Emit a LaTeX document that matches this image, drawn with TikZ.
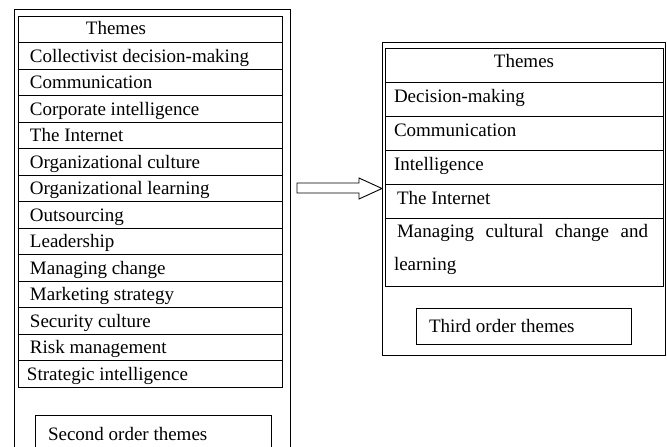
\documentclass[tikz,border=0pt]{standalone}
\usepackage{fontspec}
\setmainfont{Liberation Serif}
\usetikzlibrary{calc}
\begin{document}
\begin{tikzpicture}[x=1pt,y=-1pt,
  frame/.style={draw, line width=0.9pt, inner sep=0pt, outer sep=0pt, anchor=north west},
  entry/.style={font=\fontsize{19}{23}\selectfont, anchor=base west, inner sep=0pt, outer sep=0pt},
  blockarrow/.style={draw, line width=0.9pt, line join=miter},
]
\clip (0,0) rectangle (667,447);

% ---- second order themes (left panel) ----
\node[frame, minimum width=275.7, minimum height=460] (secondpanel) at (14.3,9) {};
\node[frame, minimum width=264, minimum height=26.5] (L0) at (18,16) {};
\node[entry, anchor=base] (L0t) at ($(L0.north west)+(98,18.9)$) {Themes};
\foreach \t/\dx [count=\i] in {
  Collectivist decision-making/12,
  Communication/12,
  Corporate intelligence/12,
  The Internet/12,
  Organizational culture/12,
  Organizational learning/12,
  Outsourcing/12,
  Leadership/12,
  Managing change/12,
  Marketing strategy/12,
  Security culture/12,
  Risk management/12,
  Strategic intelligence/9}{
  \node[frame, minimum width=264, minimum height=26.5] (L\i) at (18,{16+26.5*\i}) {};
  \node[entry] (L\i t) at ($(L\i.north west)+(\dx,19.5)$) {\t};
}
\node[frame, minimum width=236, minimum height=50] (secondlabel) at (35,415) {};
\node[entry] (secondlabelt) at ($(secondlabel.north west)+(13,25.5)$) {Second order themes};

% ---- third order themes (right panel) ----
\node[frame, minimum width=283, minimum height=313] (thirdpanel) at (382,42) {};
\node[frame, minimum width=278, minimum height=34] (R0) at (385,48) {};
\node[entry, anchor=base] (R0t) at ($(R0.north west)+(139,19.5)$) {Themes};
\foreach \t/\dx [count=\i] in {
  Decision-making/9,
  Communication/9,
  Intelligence/9,
  The Internet/12}{
  \node[frame, minimum width=278, minimum height=34] (R\i) at (385,{48+34*\i}) {};
  \node[entry] (R\i t) at ($(R\i.north west)+(\dx,20.5)$) {\t};
}
\node[frame, minimum width=278, minimum height=68] (R5) at (385,218) {};
\node[entry] (R5a) at ($(R5.north west)+(12,19.5)$) {\makebox[251pt][s]{Managing cultural change and}};
\node[entry] (R5b) at ($(R5.north west)+(9,52.5)$) {learning};
\node[frame, minimum width=215, minimum height=36] (thirdlabel) at (416,308) {};
\node[entry] (thirdlabelt) at ($(thirdlabel.north west)+(13,24.5)$) {Third order themes};

% ---- block arrow from the left panel to the right panel ----
\coordinate (tail) at ($(secondpanel.north east)+(7,179.5)$);
\coordinate (tip) at ($(thirdpanel.north west)+(0,146.5)$);
\draw[blockarrow] (tip) -- ++(-23,-10.5) -- ++(0,5) -- (tail |- 0,183)
  -- (tail |- 0,193) -- ($(tip)+(-23,4.5)$) -- ++(0,6) -- cycle;
\end{tikzpicture}
\end{document}
